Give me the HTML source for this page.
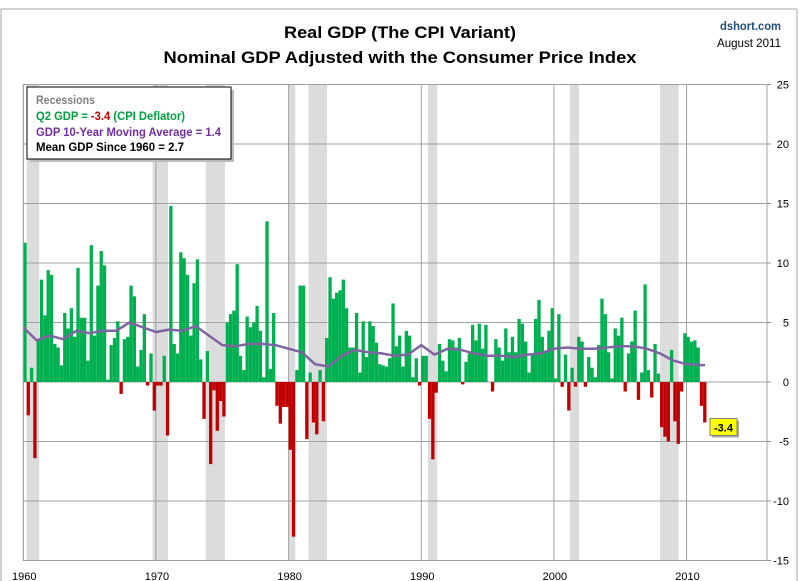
<!DOCTYPE html>
<html><head><meta charset="utf-8"><style>
html,body{margin:0;padding:0;background:#fff;}
svg{display:block;font-family:"Liberation Sans",sans-serif;}
</style></head><body>
<svg id="chart" width="800" height="581" viewBox="0 0 800 581" xmlns="http://www.w3.org/2000/svg">
<rect x="1" y="9" width="796" height="580" fill="#fff" stroke="#a6a6a6" stroke-width="1"/>
<g id="bands"></g>
<g id="grid"></g>
<g id="bars"></g>
<g id="ma"></g>
<g id="axes"></g>
<text x="400" y="38" text-anchor="middle" font-size="17" font-weight="bold" textLength="232" lengthAdjust="spacingAndGlyphs" fill="#000">Real GDP (The CPI Variant)</text>
<text x="400" y="63" text-anchor="middle" font-size="17" font-weight="bold" textLength="473" lengthAdjust="spacingAndGlyphs" fill="#000">Nominal GDP Adjusted with the Consumer Price Index</text>
<text x="781" y="30" text-anchor="end" font-size="12" font-weight="bold" fill="#1f4e79" textLength="61" lengthAdjust="spacingAndGlyphs">dshort.com</text>
<text x="781" y="47" text-anchor="end" font-size="12" fill="#000" textLength="64" lengthAdjust="spacingAndGlyphs">August 2011</text>
<g>
<rect x="30" y="90" width="204" height="72" fill="#bbb"/>
<rect x="27" y="87" width="204" height="72" fill="#fff" stroke="#000" stroke-width="1"/>
<text x="36" y="104" font-size="12" font-weight="bold" fill="#808080" textLength="59" lengthAdjust="spacingAndGlyphs">Recessions</text>
<text x="36" y="120" font-size="12" font-weight="bold" fill="#00a040" textLength="149" lengthAdjust="spacingAndGlyphs">Q2 GDP = <tspan fill="#c00000">-3.4</tspan> (CPI Deflator)</text>
<text x="36" y="136" font-size="12" font-weight="bold" fill="#7030a0" textLength="185" lengthAdjust="spacingAndGlyphs">GDP 10-Year Moving Average = 1.4</text>
<text x="36" y="151" font-size="12" font-weight="bold" fill="#000" textLength="148" lengthAdjust="spacingAndGlyphs">Mean GDP  Since 1960  = 2.7</text>
</g>
<g id="callout"></g>
</svg>
<script>
const gdpValues = [
11.7,-2.8,1.2,-6.4,3.5,8.6,5.6,9.4,9.0,3.2,2.9,1.4,5.8,4.5,6.2,3.8,9.6,5.4,5.4,1.8,
11.5,3.9,8.1,11.0,9.8,0.2,3.1,3.7,5.1,-1.0,3.6,3.8,8.1,7.2,1.3,2.7,5.7,-0.3,2.4,-2.4,
-0.3,-0.3,2.2,-4.5,14.8,3.2,2.4,10.9,10.4,9.0,3.9,8.3,10.3,1.9,-3.1,2.6,-6.9,-0.7,-4.1,-1.6,
-2.9,5.0,5.7,6.0,9.9,2.2,1.0,5.5,4.6,5.0,6.4,4.3,0.4,13.5,1.1,5.8,-2.0,-3.5,-2.1,-2.1,
-5.7,-13.0,1.0,8.1,8.1,-4.8,0.8,-3.4,-4.4,1.0,-3.3,3.7,8.8,7.0,7.5,7.7,8.6,6.2,2.9,2.9,
5.8,0.8,5.1,2.1,5.1,4.7,3.3,1.5,1.4,1.3,2.0,6.6,3.0,3.9,1.3,4.3,3.9,0.4,2.0,-0.3,
2.2,2.2,-3.1,-6.5,-0.9,3.2,1.8,0.9,3.6,3.5,2.9,3.7,-0.2,1.7,2.4,4.8,3.5,4.9,2.8,4.8,
0.0,-0.8,3.6,2.9,1.8,4.5,2.5,3.8,2.5,5.3,4.9,3.4,0.8,2.4,5.3,6.9,3.8,2.5,4.3,6.2,
0.3,5.7,-0.4,2.3,-2.4,1.2,-0.4,3.8,3.4,-0.4,2.1,1.2,0.4,3.1,7.0,5.7,2.5,0.3,4.5,3.9,
5.4,-0.8,2.4,3.4,6.0,-1.5,0.8,8.2,1.0,-1.3,3.2,0.7,-3.8,-4.6,-5.0,2.7,-3.3,-5.2,-0.8,4.1,
3.8,3.4,3.5,2.9,-2.0,-3.4];
const maYears = [1960,1961,1962,1963,1964,1965,1966,1967,1968,1969,1970,1971,1972,1973,1974,1975,1976,1977,1978,1979,1980,1981,1982,1983,1984,1985,1986,1987,1988,1989,1990,1991,1992,1993,1994,1995,1996,1997,1998,1999,2000,2001,2002,2003,2004,2005,2006,2007,2008,2009,2010,2011.4];
const maValues = [4.6,3.5,3.9,3.6,4.3,4.1,4.3,4.3,5.0,4.6,4.2,4.4,4.3,4.7,3.9,3.1,3.0,3.2,3.2,3.1,2.8,2.5,1.5,1.3,2.2,2.7,2.5,2.4,2.2,2.3,3.1,2.3,2.8,2.7,2.4,2.2,2.2,2.1,2.3,2.4,2.8,2.9,2.8,2.8,2.9,3.0,3.0,2.8,2.4,1.8,1.5,1.4];
const recessionStarts = [1960.25,1969.75,1973.75,1980.0,1981.5,1990.5,2001.2,2008.0];
const recessionEnds = [1961.2,1970.9,1975.2,1980.5,1982.9,1991.2,2001.9,2009.4];
const yTicks = [25,20,15,10,5,0,-5,-10,-15];
const yTickLabels = ["25","20","15","10","5","0","-5","-10","-15"];
const xTicks = [1960,1970,1980,1990,2000,2010];
const xTickLabels = ["1960","1970","1980","1990","2000","2010"];
const lastLabel = "-3.4";

const NS="http://www.w3.org/2000/svg";
const L=23.3, R=767, T=84.5, B=560.5, Y0=1960, YMAX=25, YMIN=-15, PXYR=13.265;
const x = yr => L + (yr - Y0) * PXYR;
const y = v => T + (YMAX - v) / (YMAX - YMIN) * (B - T);
function mk(tag, attrs, parent){const e=document.createElementNS(NS,tag);for(const k in attrs)e.setAttribute(k,attrs[k]);parent.appendChild(e);return e;}
const bands=document.getElementById('bands'), grid=document.getElementById('grid'), bars=document.getElementById('bars'), ma=document.getElementById('ma'), axes=document.getElementById('axes'), callout=document.getElementById('callout');

recessionStarts.forEach((s,i)=>{
  const r=mk('rect',{x:x(s),y:T,width:x(recessionEnds[i])-x(s),height:B-T,fill:'#dcdcdc'},bands);
  
  
});
yTicks.forEach((v,i)=>{
  const l=mk('line',{x1:L,x2:R,y1:y(v),y2:y(v),stroke:'#a0a0a0','stroke-width':1},grid);
  
  
  const tk=mk('line',{x1:R,x2:R+4,y1:y(v),y2:y(v),stroke:'#909090','stroke-width':1},axes);
  
  
  const t=mk('text',{x:789,y:y(v)+4,'text-anchor':'end','font-size':11,fill:'#000'},axes);
  t.textContent=yTickLabels[i];
  
  
});
xTicks.forEach((v,i)=>{
  const l=mk('line',{x1:x(v),x2:x(v),y1:T,y2:B,stroke:'#a0a0a0','stroke-width':1},grid);
  
  
  const t=mk('text',{x:x(v)+1,y:580,'text-anchor':'middle','font-size':11,fill:'#000'},axes);
  t.textContent=xTickLabels[i];
  
  
});
const frame=mk('rect',{x:L,y:T,width:R-L,height:B-T,fill:'none',stroke:'#a0a0a0','stroke-width':1},axes);



const qw=PXYR/4;
gdpValues.forEach((v,i)=>{
  const yr=Y0+i/4;
  const top=Math.min(y(v),y(0)), h=Math.abs(y(v)-y(0));
  const b=mk('rect',{x:x(yr),y:top,width:qw,height:h,fill:v>=0?'#00b050':'#c00000'},bars);
  
  
});
const pts=maYears.map((yr,i)=>x(yr).toFixed(1)+','+y(maValues[i]).toFixed(1)).join(' ');
const pl=mk('polyline',{points:pts,fill:'none',stroke:'#8064a2','stroke-width':2.5,'stroke-linejoin':'round'},ma);



const lastV=gdpValues[gdpValues.length-1];
const cy=y(lastV)+5;
const sh=mk('rect',{x:712,y:cy-7,width:27,height:17,fill:'#aaa'},callout);


const cb=mk('rect',{x:710,y:cy-9,width:27,height:17,fill:'#ffff00',stroke:'#808080','stroke-width':1},callout);


const ct=mk('text',{x:723.5,y:cy+4,'text-anchor':'middle','font-size':11,'font-weight':'bold',fill:'#000'},callout);
ct.textContent=lastLabel;


</script>
</body></html>
